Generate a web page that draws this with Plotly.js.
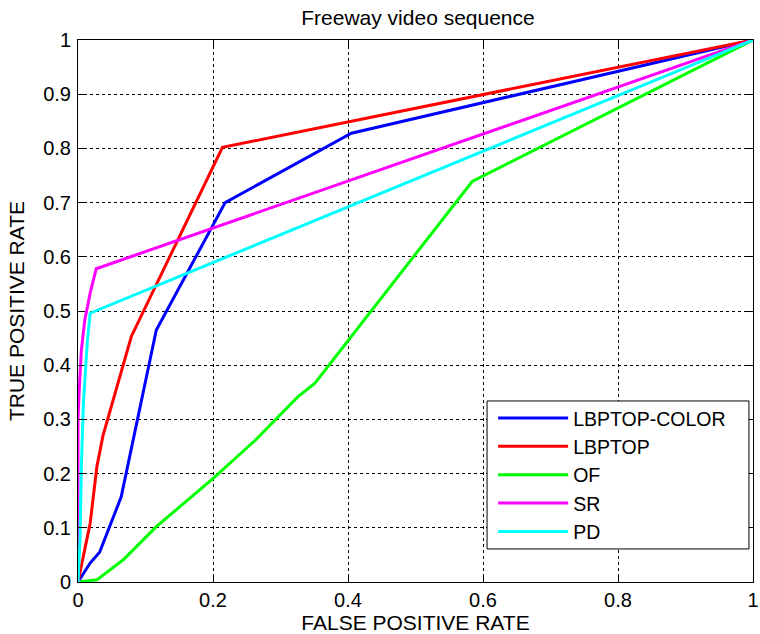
<!DOCTYPE html>
<html>
<head>
<meta charset="utf-8">
<script src="https://cdn.plot.ly/plotly-3.0.1.min.js"></script>
<style>html,body{margin:0;padding:0;background:#fff;}#chart{width:760px;height:634px;}</style>
</head>
<body>
<div id="chart"></div>
<script>
// Series names and colours
const seriesNames = ["LBPTOP-COLOR", "LBPTOP", "OF", "SR", "PD"];
const seriesColors = ["#0000ff", "#ff0000", "#00ff00", "#ff00ff", "#00ffff"];

// LBPTOP-COLOR
const lbptopColorFPR = [0, 0.018, 0.032, 0.052, 0.064, 0.116, 0.218, 0.405, 1];
const lbptopColorTPR = [0, 0.035, 0.055, 0.12, 0.157, 0.465, 0.700, 0.828, 1];
// LBPTOP
const lbptopFPR = [0, 0.018, 0.028, 0.037, 0.079, 0.214, 1];
const lbptopTPR = [0, 0.108, 0.213, 0.27, 0.453, 0.802, 1];
// OF
const ofFPR = [0, 0.028, 0.067, 0.116, 0.199, 0.263, 0.326, 0.351, 0.584, 1];
const ofTPR = [0, 0.004, 0.041, 0.102, 0.19, 0.262, 0.342, 0.367, 0.739, 1];
// SR
const srFPR = [0, 0, 0.002, 0.005, 0.010, 0.018, 0.027, 1];
const srTPR = [0, 0.30, 0.36, 0.428, 0.483, 0.533, 0.578, 1];
// PD
const pdFPR = [0, 0.003, 0.005, 0.008, 0.014, 0.018, 1];
const pdTPR = [0, 0.077, 0.213, 0.33, 0.446, 0.496, 1];

const xs = [lbptopColorFPR, lbptopFPR, ofFPR, srFPR, pdFPR];
const ys = [lbptopColorTPR, lbptopTPR, ofTPR, srTPR, pdTPR];

const traces = seriesNames.map((n, i) => ({
  x: xs[i], y: ys[i], name: n, type: "scatter", mode: "lines",
  line: {color: seriesColors[i], width: 3}
}));

const fontFam = "Liberation Sans, Arial, sans-serif";
const axisCommon = {
  range: [0, 1], showline: true, mirror: "ticks", linecolor: "#000", linewidth: 1,
  ticks: "inside", ticklen: 6, tickcolor: "#000",
  showgrid: true, gridcolor: "#000", gridwidth: 1, griddash: "3px,3px",
  zeroline: false, tickfont: {family: fontFam, size: 20, color: "#000"}
};

const layout = {
  width: 760, height: 634,
  margin: {l: 78, r: 7, t: 40, b: 52},
  paper_bgcolor: "#fff", plot_bgcolor: "#fff",
  font: {family: fontFam, color: "#000"},
  title: {text: "Freeway video sequence", font: {family: fontFam, size: 21, color: "#000"},
          x: 0.55, xanchor: "center", y: 0.972, yanchor: "middle", yref: "container"},
  xaxis: Object.assign({}, axisCommon, {dtick: 0.2, tick0: 0, ticklabelstandoff: 0,
    title: {text: "FALSE POSITIVE RATE", font: {family: fontFam, size: 21, color: "#000"}, standoff: 2}}),
  yaxis: Object.assign({}, axisCommon, {dtick: 0.1, tick0: 0, ticklabelstandoff: 2,
    title: {text: "TRUE POSITIVE RATE", font: {family: fontFam, size: 21, color: "#000"}, standoff: 12}}),
  shapes: [{type: "rect", xref: "paper", yref: "paper", x0: 0.606, x1: 0.994, y0: 0.061, y1: 0.334,
    fillcolor: "#fff", line: {color: "#000", width: 1}, layer: "above"}],
  showlegend: true,
  legend: {x: 0.615, xanchor: "left", y: 0.338, yanchor: "top",
    bgcolor: "rgba(0,0,0,0)", borderwidth: 0,
    font: {family: fontFam, size: 19.5, color: "#000"}, itemwidth: 70, tracegroupgap: 0}
};

Plotly.newPlot("chart", traces, layout, {displayModeBar: false, staticPlot: true});
</script>
</body>
</html>
